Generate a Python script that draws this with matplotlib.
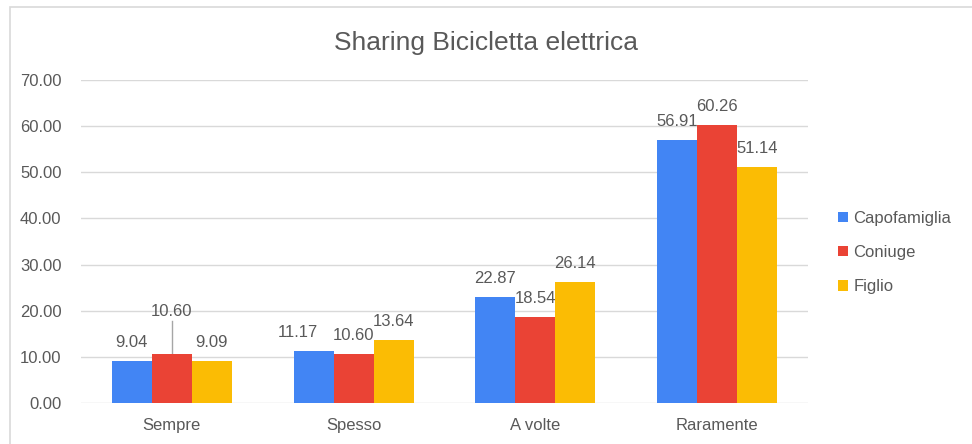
import numpy as np
import matplotlib.pyplot as plt
from matplotlib.patches import Rectangle

plt.rcParams['font.family'] = ['Liberation Sans', 'DejaVu Sans']

categories = ['Sempre', 'Spesso', 'A volte', 'Raramente']
series_names = ['Capofamiglia', 'Coniuge', 'Figlio']
capofamiglia = [9.04, 11.17, 22.87, 56.91]
coniuge = [10.60, 10.60, 18.54, 60.26]
figlio = [9.09, 13.64, 26.14, 51.14]
colors = ['#4285F4', '#EA4335', '#FBBC04']
yticks = [0, 10, 20, 30, 40, 50, 60, 70]

text_col = '#595959'

fig = plt.figure(figsize=(9.72, 4.44), dpi=100)
fig.patches.append(Rectangle((10 / 972, -0.05), 1.0, 1 - 7 / 444 + 0.05,
                             transform=fig.transFigure, fill=False,
                             edgecolor='#d9d9d9', linewidth=1.2))
ax = fig.add_axes([81 / 972, 1 - 403 / 444, (808 - 81) / 972, (403 - 80) / 444])

x = np.arange(len(categories))
w = 0.22
all_series = [capofamiglia, coniuge, figlio]
for i, (vals, name, c) in enumerate(zip(all_series, series_names, colors)):
    pos = x + (i - 1) * w
    ax.bar(pos, vals, width=w, color=c, label=name, zorder=3)
    for j, (p, v) in enumerate(zip(pos, vals)):
        if i == 1 and j == 0:
            # label pushed up with a leader line
            ax.plot([p, p], [v, v + 7.2], color='#a6a6a6', lw=1, zorder=2)
            ax.text(p, v + 9.3, f'{v:.2f}', ha='center', va='center',
                    fontsize=12, color=text_col)
        elif i == 0 and j == 1:
            # nudged left so it doesn't collide with the neighbour
            ax.text(p - 0.088, v + 4.1, f'{v:.2f}', ha='center', va='center',
                    fontsize=12, color=text_col)
        else:
            ax.text(p, v + 4.1, f'{v:.2f}', ha='center', va='center',
                    fontsize=12, color=text_col)

ax.set_xlim(-0.5, 3.5)
ax.set_ylim(0, 70)
ax.set_yticks(yticks)
ax.set_yticklabels([f'{t:.2f}' for t in yticks])
ax.set_xticks(x)
ax.set_xticklabels(categories)
ax.tick_params(axis='both', length=0, labelsize=12, labelcolor=text_col)
ax.tick_params(axis='y', pad=14)
ax.tick_params(axis='x', pad=11)
ax.grid(axis='y', color='#d9d9d9', linewidth=1, zorder=0)
for s in ax.spines.values():
    s.set_visible(False)

fig.text(0.5, 1 - 43 / 444, 'Sharing Bicicletta elettrica', ha='center', va='center',
         fontsize=19, color=text_col)

ax.legend(loc='center left', bbox_to_anchor=(1.021, 0.466), frameon=False,
          fontsize=12, labelcolor=text_col, handlelength=0.6, handleheight=0.6,
          handletextpad=0.3, labelspacing=1.15)

fig.savefig('out.png', dpi=100)
